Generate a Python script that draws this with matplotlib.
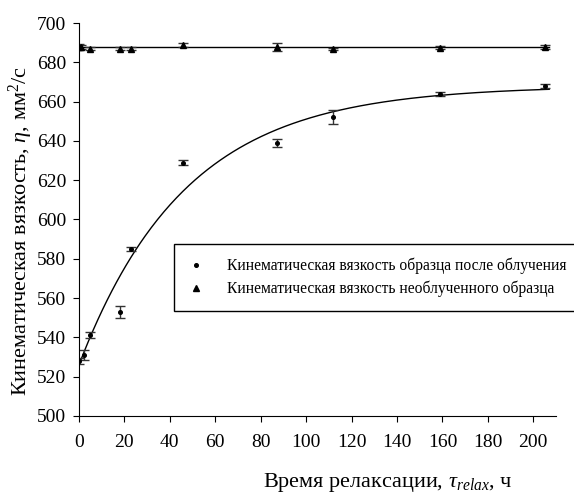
import numpy as np
import matplotlib.pyplot as plt

plt.rcParams["font.family"] = ["Liberation Serif", "DejaVu Serif"]
plt.rcParams["mathtext.fontset"] = "custom"
plt.rcParams["mathtext.rm"] = "Liberation Serif"
plt.rcParams["mathtext.it"] = "Liberation Serif:italic"

# irradiated sample
t_irr = [0, 2, 5, 18, 23, 46, 87, 112, 159, 205]
v_irr = [528, 531, 541, 553, 585, 629, 639, 652, 664, 668]
e_irr = [1.5, 2.5, 1.5, 3.0, 1.0, 1.5, 2.0, 3.5, 1.0, 1.2]

# unirradiated sample
t_ref = [0, 1, 5, 18, 23, 46, 87, 112, 159, 205]
v_ref = [688, 688, 687, 687, 687, 689, 688, 687, 687.5, 688]
e_ref = [1.5, 1.0, 0.8, 0.8, 0.8, 1.0, 2.0, 0.5, 0.8, 1.0]

# fitted trend lines
fit_A, fit_B, fit_tau = 668.0, 142.0, 47.0
ref_level = 687.8
t_end = 207

fig = plt.figure(figsize=(5.74, 4.94), dpi=100)
ax = fig.add_axes([0.1376, 0.158, 0.831, 0.7954])

tt = np.linspace(0, t_end, 300)
ax.plot(tt, fit_A - fit_B * np.exp(-tt / fit_tau), color="black", lw=1.0)
ax.plot([0, t_end], [ref_level, ref_level], color="black", lw=1.0)

ax.errorbar(t_irr, v_irr, yerr=e_irr, fmt="o", ms=2.6, color="black",
            ecolor="#333333", elinewidth=1.0, capsize=3.4, capthick=1.0,
            label="Кинематическая вязкость образца после облучения")
ax.errorbar(t_ref, v_ref, yerr=e_ref, fmt="^", ms=4.5, color="black",
            ecolor="#333333", elinewidth=1.0, capsize=3.4, capthick=1.0,
            label="Кинематическая вязкость необлученного образца")

ax.set_xlim(0, 210)
ax.set_ylim(500, 700)
ax.set_xticks(range(0, 201, 20))
ax.set_yticks(range(500, 701, 20))
ax.spines["top"].set_visible(False)
ax.spines["right"].set_visible(False)
ax.tick_params(direction="out", length=4, labelsize=14, pad=5)
ax.tick_params(axis="x", pad=9)

ax.set_ylabel("Кинематическая вязкость, $\\eta$, мм$^2$/с", fontsize=16)
ax.yaxis.set_label_coords(-0.092, 0.47)
fig.text(388 / 574, 1 - 482 / 494, "Время релаксации, $\\tau_{relax}$, ч",
         fontsize=16, ha="center", va="center")

handles, labels = ax.get_legend_handles_labels()
handles = [h[0] for h in handles]
leg = ax.legend(handles, labels, loc="upper left",
                bbox_to_anchor=(0.199, 0.438), fontsize=11.2, frameon=True,
                fancybox=False, edgecolor="black", framealpha=1,
                handlelength=1.0, handletextpad=1.5, borderpad=0.9,
                labelspacing=0.4, borderaxespad=0)
leg.get_frame().set_linewidth(1.0)

fig.savefig("out.png", dpi=100)
